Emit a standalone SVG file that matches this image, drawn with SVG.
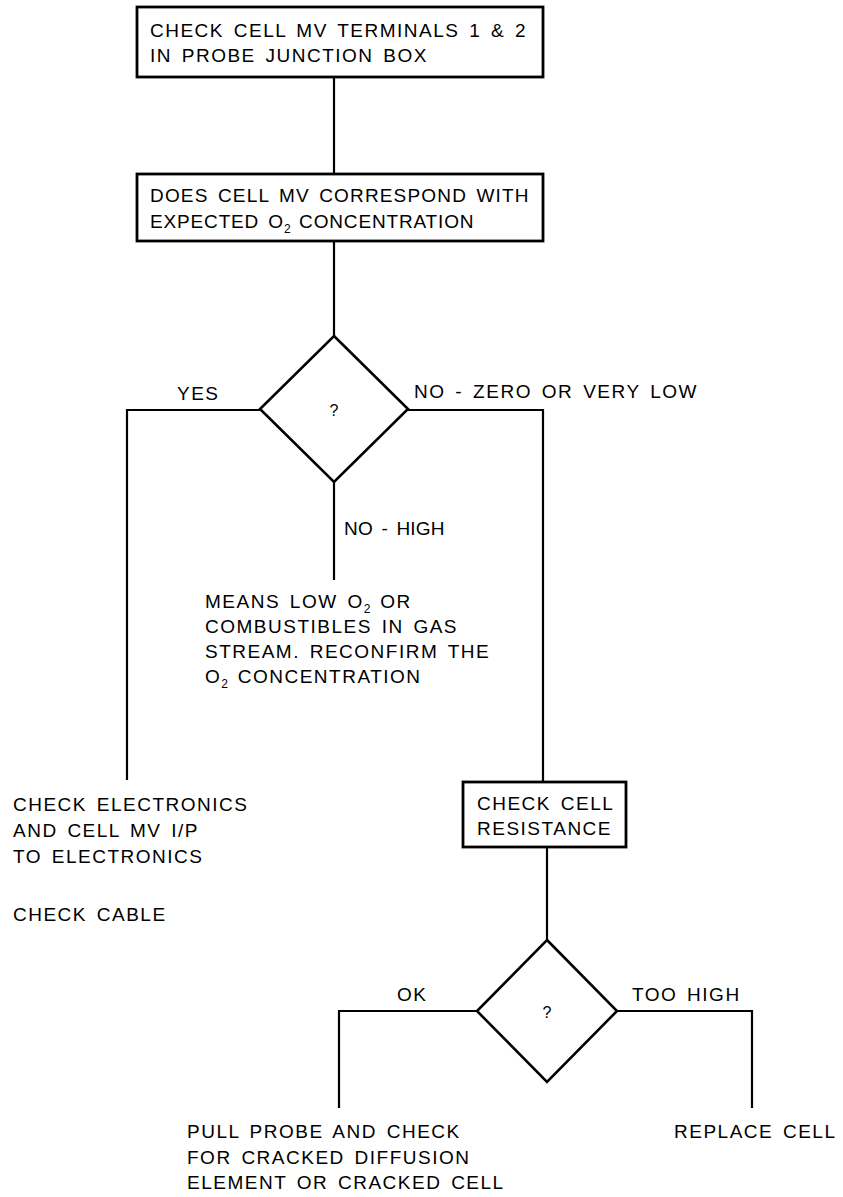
<svg xmlns="http://www.w3.org/2000/svg" width="843" height="1197" viewBox="0 0 843 1197">
<style>
.bg{fill:#fff}
.box{fill:#fff;stroke:#000;stroke-width:2.8}
.dia{fill:#fff;stroke:#000;stroke-width:2.6}
.ln{fill:none;stroke:#000;stroke-width:2.2}
text{font-family:"Liberation Sans",Arial,Helvetica,sans-serif;font-size:19px;fill:#000;letter-spacing:1.5px;word-spacing:3px}
.q{font-size:16px;letter-spacing:0;text-anchor:middle}
.sub{font-size:12px;letter-spacing:0}
</style>
<rect class="bg" x="0" y="0" width="843" height="1197"/>
<g id="connectors">
<path class="ln" d="M334 77V174"/>
<path class="ln" d="M334 241V336"/>
<path class="ln" d="M260 410H127V780"/>
<path class="ln" d="M408 410H543V782"/>
<path class="ln" d="M334 482V580"/>
<path class="ln" d="M547 847V940"/>
<path class="ln" d="M477 1011H339V1108"/>
<path class="ln" d="M617 1011H752V1108"/>
</g>
<g id="n1">
<rect class="box" x="137" y="7" width="406" height="70"/>
<text x="150" y="37" textLength="377" lengthAdjust="spacing">CHECK CELL MV TERMINALS 1 &amp; 2</text>
<text x="150" y="62" textLength="278" lengthAdjust="spacing">IN PROBE JUNCTION BOX</text>
</g>
<g id="n2">
<rect class="box" x="137" y="174" width="406" height="67"/>
<text x="150" y="202" textLength="380" lengthAdjust="spacing">DOES CELL MV CORRESPOND WITH</text>
<text x="150" y="228" textLength="325" lengthAdjust="spacing">EXPECTED O<tspan class="sub" dy="5">2</tspan><tspan dy="-5"> CONCENTRATION</tspan></text>
</g>
<g id="d1">
<polygon class="dia" points="334,336 408,409 334,482 260,409"/>
<text class="q" x="334" y="416">?</text>
</g>
<g id="l-yes"><text x="177" y="400">YES</text></g>
<g id="l-nozero"><text x="414" y="398" textLength="284" lengthAdjust="spacing">NO - ZERO OR VERY LOW</text></g>
<g id="l-nohigh"><text x="344" y="535" textLength="102" lengthAdjust="spacing">NO - HIGH</text></g>
<g id="n-means">
<text x="205" y="608">MEANS LOW O<tspan class="sub" dy="5">2</tspan><tspan dy="-5"> OR</tspan></text>
<text x="205" y="633">COMBUSTIBLES IN GAS</text>
<text x="205" y="658">STREAM. RECONFIRM THE</text>
<text x="205" y="683">O<tspan class="sub" dy="5">2</tspan><tspan dy="-5"> CONCENTRATION</tspan></text>
</g>
<g id="n-electronics">
<text x="13" y="811">CHECK ELECTRONICS</text>
<text x="13" y="837">AND CELL MV I/P</text>
<text x="13" y="863">TO ELECTRONICS</text>
<text x="13" y="921">CHECK CABLE</text>
</g>
<g id="n3">
<rect class="box" x="463" y="782" width="163" height="65"/>
<text x="477" y="810">CHECK CELL</text>
<text x="477" y="835">RESISTANCE</text>
</g>
<g id="d2">
<polygon class="dia" points="547,940 617,1011 547,1082 477,1011"/>
<text class="q" x="547" y="1018">?</text>
</g>
<g id="l-ok"><text x="397" y="1001">OK</text></g>
<g id="l-toohigh"><text x="632" y="1001">TOO HIGH</text></g>
<g id="n-pull">
<text x="187" y="1138">PULL PROBE AND CHECK</text>
<text x="187" y="1164">FOR CRACKED DIFFUSION</text>
<text x="187" y="1189">ELEMENT OR CRACKED CELL</text>
</g>
<g id="n-replace"><text x="674" y="1138">REPLACE CELL</text></g>
</svg>
